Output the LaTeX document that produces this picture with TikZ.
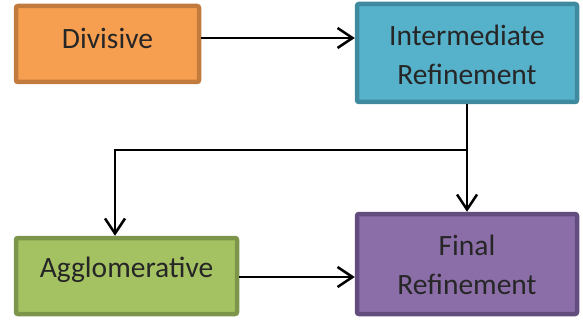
\documentclass[tikz,border=0pt]{standalone}
\usepackage{fontspec}
\setmainfont{Carlito}
\usetikzlibrary{arrows.meta}
\definecolor{orfill}{HTML}{F79F51}
\definecolor{ordraw}{HTML}{C17B3D}
\definecolor{blfill}{HTML}{56B1CB}
\definecolor{bldraw}{HTML}{3F8A9E}
\definecolor{grfill}{HTML}{A5C262}
\definecolor{grdraw}{HTML}{7D954A}
\definecolor{pufill}{HTML}{8B6EA8}
\definecolor{pudraw}{HTML}{624D7E}
\tikzset{
  box/.style={draw, line width=4.5pt, rounded corners=2pt, inner sep=0pt},
  lbl/.style={align=center, inner sep=0pt, font=\fontsize{29.5}{39}\selectfont, text=black!85},
  conn/.style={line width=2.5pt, -{Straight Barb[length=15pt,width=20pt,line width=2.5pt]}}
}
\begin{document}
\begin{tikzpicture}[x=1pt,y=-1pt]
\useasboundingbox (0,0) rectangle (583,323);
\node[box, fill=orfill, draw=ordraw, minimum width=183pt, minimum height=76pt] (div) at (107.5,44) {};
\node[lbl] (divt) at (107.5,38) {Divisive};
\node[box, fill=blfill, draw=bldraw, minimum width=220pt, minimum height=98pt] (int) at (467,53) {};
\node[lbl] (intt) at (467,55) {Intermediate\\Refinement};
\node[box, fill=grfill, draw=grdraw, minimum width=221pt, minimum height=76pt] (agg) at (126.5,276) {};
\node[lbl] (aggt) at (126.5,270) {Agglomerative};
\node[box, fill=pufill, draw=pudraw, minimum width=220pt, minimum height=100pt] (fin) at (467,264) {};
\node[lbl] (fint) at (467,265) {Final\\Refinement};
\coordinate (br) at (467,150);
\coordinate (bl) at (115,150);
\draw[conn] (div.east |- 0,38) -- (int.west |- 0,38);
\draw[conn] (agg.east |- 0,277) -- (fin.west |- 0,277);
\draw[conn] (int.south) -- (fin.north);
\draw[conn] (br) -- (bl) -- (bl |- agg.north);
\end{tikzpicture}
\end{document}
